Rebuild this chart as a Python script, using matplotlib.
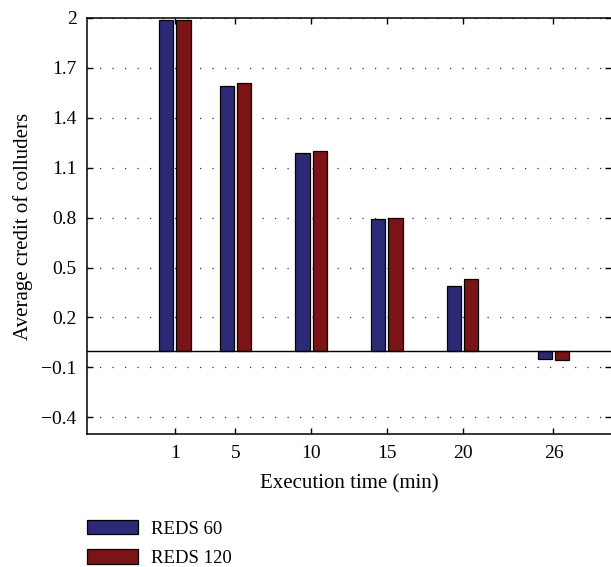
import numpy as np
import matplotlib.pyplot as plt
from matplotlib.patches import Patch

# data
times = [1, 5, 10, 15, 20, 26]
reds60 = [1.99, 1.59, 1.19, 0.79, 0.39, -0.05]
reds120 = [1.99, 1.61, 1.20, 0.80, 0.43, -0.055]
yticks = [-0.4, -0.1, 0.2, 0.5, 0.8, 1.1, 1.4, 1.7, 2.0]
ytick_labels = ['\u22120.4', '\u22120.1', '0.2', '0.5', '0.8', '1.1', '1.4', '1.7', '2']
series_names = ['REDS 60', 'REDS 120']

blue = '#2b2a77'
red = '#7b1417'

plt.rcParams['font.family'] = ['Liberation Serif', 'DejaVu Serif']
plt.rcParams['font.size'] = 14

fig = plt.figure(figsize=(6.11, 5.67), dpi=100)
ax = fig.add_axes([0.1424, 0.2346, 0.8576, 0.7337])

x = np.array(times, dtype=float)
w = 0.93
off = 0.57
ax.bar(x - off, reds60, width=w, color=blue, edgecolor='black', linewidth=0.9, zorder=3)
ax.bar(x + off, reds120, width=w, color=red, edgecolor='black', linewidth=0.9, zorder=3)

ax.axhline(0, color='black', linewidth=1.0, zorder=4)

ax.set_xlim(-4.8, 29.8)
ax.set_ylim(-0.5, 2.0)
ax.set_xticks(times)
ax.set_xticklabels([str(t) for t in times])
ax.set_yticks(yticks)
ax.set_yticklabels(ytick_labels)

ax.yaxis.grid(True, linestyle=(0, (1, 9)), color='#333333', linewidth=0.9, zorder=0)
ax.tick_params(direction='in', length=4, width=1, top=True, right=True)
ax.tick_params(axis='y', pad=7.5)
ax.tick_params(axis='x', pad=8)
for s in ax.spines.values():
    s.set_linewidth(1.1)
ax.spines['right'].set_visible(False)

ax.set_xlabel('Execution time (min)', fontsize=15, labelpad=9)
ax.set_ylabel('Average credit of colluders', fontsize=15, labelpad=6)

handles = [Patch(facecolor=blue, edgecolor='black', linewidth=0.9),
           Patch(facecolor=red, edgecolor='black', linewidth=0.9)]
fig.legend(handles, series_names, loc='upper left', bbox_to_anchor=(0.1424, 0.083),
           bbox_transform=fig.transFigure, frameon=False, borderpad=0, borderaxespad=0,
           fontsize=13.5, handlelength=2.72, handleheight=0.8, handletextpad=0.68,
           labelspacing=0.62)

fig.savefig('out.png', dpi=100)
